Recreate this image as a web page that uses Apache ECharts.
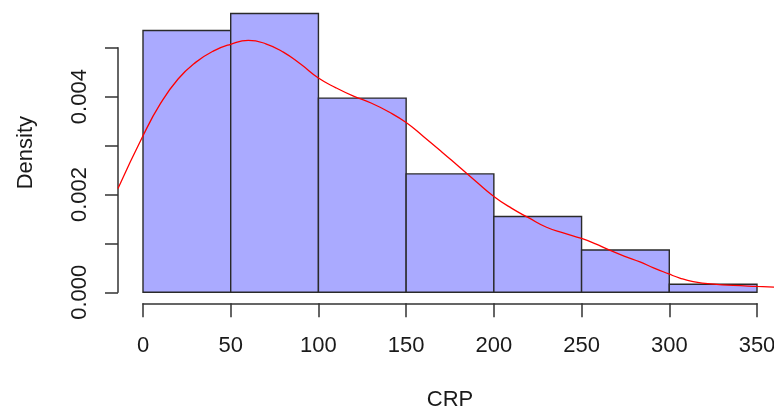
<!DOCTYPE html>
<html>
<head>
<meta charset="utf-8">
<script src="https://cdn.jsdelivr.net/npm/echarts@6/dist/echarts.min.js"></script>
<style>
html,body{margin:0;padding:0;background:#fff;}
#chart{width:774px;height:416px;}
</style>
</head>
<body>
<div id="chart"></div>
<script>
// Histogram bins (CRP) and densities
const binStarts = [0, 50, 100, 150, 200, 250, 300];
const binEnds   = [50, 100, 150, 200, 250, 300, 350];
const densities = [0.00535, 0.00570, 0.00397, 0.00242, 0.00155, 0.000865, 0.000164];

// Kernel density curve (x, density)
const curveX = [-14.25, 0, 10, 20, 30, 40, 50, 60, 70, 80, 90, 100, 110, 120, 130, 140, 150, 160, 170, 180, 190, 200, 210, 220, 230, 240, 250, 258, 266, 275, 283.3, 291, 299.4, 306, 313.6, 327, 336.4, 350, 364.25];
const curveY = [0.00212, 0.00320, 0.00386, 0.00436, 0.00470, 0.00493, 0.00507, 0.00515, 0.00508, 0.00491, 0.00466, 0.00438, 0.00418, 0.00401, 0.00387, 0.00369, 0.00347, 0.00318, 0.00288, 0.00257, 0.00226, 0.00196, 0.00172, 0.00152, 0.00133, 0.00121, 0.00110, 0.00099, 0.00086, 0.00073, 0.00062, 0.00050, 0.00038, 0.00029, 0.00022, 0.00016, 0.00014, 0.00012, 0.00010];

// Tick labels
const xTicks = ['0', '50', '100', '150', '200', '250', '300', '350'];
const yTickLabels = ['0.000', '', '0.002', '', '0.004', ''];

const xTitle = 'CRP';
const yTitle = 'Density';

const FONT = 'Liberation Sans, Arial, Helvetica, sans-serif';
const TXT = '#1a1a1a';
const AX = '#333';

const chart = echarts.init(document.getElementById('chart'), null, {renderer: 'canvas'});

const option = {
  animation: false,
  backgroundColor: '#ffffff',
  grid: [
    {left: 118, right: -8, top: 2, bottom: 416 - 303.3, containLabel: false, outerBoundsMode: 'none'},
    {left: 143, width: 614, top: 200, bottom: 416 - 303.3, containLabel: false, outerBoundsMode: 'none'},
    {left: 118, width: 10, top: 47.7, height: 244.6, containLabel: false, outerBoundsMode: 'none'}
  ],
  xAxis: [
    {
      gridIndex: 0, type: 'value', min: -14.25, max: 364.25,
      axisLine: {show: false}, axisTick: {show: false}, axisLabel: {show: false}, splitLine: {show: false},
      name: xTitle, nameLocation: 'middle', nameGap: 86,
      nameTextStyle: {fontFamily: FONT, fontSize: 22, color: TXT}
    },
    {
      gridIndex: 1, type: 'value', min: 0, max: 350, interval: 50,
      axisLine: {show: true, lineStyle: {color: AX, width: 1.5}},
      axisTick: {show: true, length: 14, lineStyle: {color: AX, width: 1.5}},
      axisLabel: {show: true, margin: 32, fontFamily: FONT, fontSize: 22, color: TXT,
        formatter: function (v, i) { return xTicks[i] !== undefined ? xTicks[i] : ''; }},
      splitLine: {show: false}
    },
    {gridIndex: 2, type: 'value', show: false}
  ],
  yAxis: [
    {
      gridIndex: 0, type: 'value', min: -0.000225, max: 0.005934,
      axisLine: {show: false}, axisTick: {show: false}, axisLabel: {show: false}, splitLine: {show: false},
      name: yTitle, nameLocation: 'middle', nameGap: 81, nameRotate: 90,
      nameTextStyle: {fontFamily: FONT, fontSize: 22, color: TXT}
    },
    {gridIndex: 1, type: 'value', show: false},
    {
      gridIndex: 2, type: 'value', min: 0, max: 0.005, interval: 0.001,
      axisLine: {show: true, lineStyle: {color: AX, width: 1.5}},
      axisTick: {show: true, length: 13, lineStyle: {color: AX, width: 1.5}},
      axisLabel: {show: true, rotate: 90, margin: 27, fontFamily: FONT, fontSize: 22, color: TXT,
        formatter: function (v, i) { return yTickLabels[i] !== undefined ? yTickLabels[i] : ''; }},
      splitLine: {show: false}
    }
  ],
  series: [
    {
      type: 'custom',
      xAxisIndex: 0, yAxisIndex: 0,
      data: binStarts.map(function (s, i) { return [s, binEnds[i], densities[i]]; }),
      encode: {x: [0, 1], y: 2},
      renderItem: function (params, api) {
        const p0 = api.coord([api.value(0), api.value(2)]);
        const p1 = api.coord([api.value(1), 0]);
        return {
          type: 'rect',
          shape: {x: p0[0], y: p0[1], width: p1[0] - p0[0], height: p1[1] - p0[1]},
          style: {fill: '#AAAAFF', stroke: '#2a2a2a', lineWidth: 1.4}
        };
      },
      z: 1
    },
    {
      type: 'line',
      xAxisIndex: 0, yAxisIndex: 0,
      data: curveX.map(function (x, i) { return [x, curveY[i]]; }),
      smooth: 0.5,
      showSymbol: false,
      symbol: 'none',
      clip: true,
      lineStyle: {color: '#ff0000', width: 1.3},
      z: 3
    }
  ]
};
chart.setOption(option);
</script>
</body>
</html>
